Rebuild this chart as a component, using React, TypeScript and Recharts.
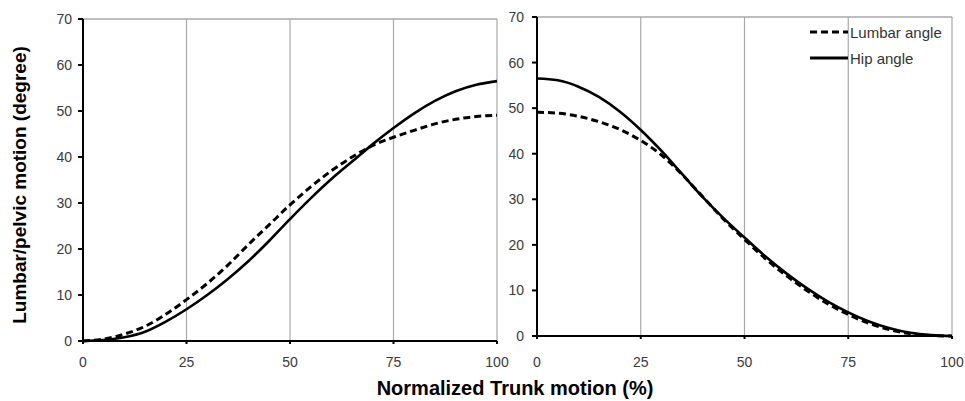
import { LineChart, Line, XAxis, YAxis, CartesianGrid, ReferenceLine, Legend } from 'recharts';

// percent of trunk motion (x) and joint angles in degrees
const pct = [0, 5, 10, 15, 20, 25, 30, 35, 40, 45, 50, 55, 60, 65, 70, 75, 80, 85, 90, 95, 100];

// flexion (left panel)
const lumbarFlex = [0, 0.4, 1.5, 3.2, 5.8, 9, 12.5, 16.5, 21, 25.3, 29.6, 33.5, 37, 40, 42.5, 44.3, 45.8, 47.2, 48.2, 48.8, 49.1];
const hipFlex = [0, 0.2, 0.8, 2, 4.2, 6.9, 10, 13.5, 17.4, 21.8, 26.5, 31, 35.2, 39, 42.8, 46.3, 49.5, 52.2, 54.3, 55.7, 56.5];

// extension (right panel)
const lumbarExt = [49.1, 48.9, 48.2, 47, 45.3, 42.9, 39.7, 35.4, 30.5, 25.6, 21.2, 17, 13.3, 10, 7.1, 4.7, 2.8, 1.4, 0.5, 0.1, 0];
const hipExt = [56.5, 56.1, 54.7, 52.4, 49.2, 45.2, 40.6, 35.5, 30.4, 25.8, 21.6, 17.5, 13.8, 10.5, 7.6, 5.2, 3.2, 1.7, 0.7, 0.2, 0];

const xTicks = [0, 25, 50, 75, 100];
const yTicks = [0, 10, 20, 30, 40, 50, 60, 70];

const flexData = pct.map((p, i) => ({ pct: p, lumbar: lumbarFlex[i], hip: hipFlex[i] }));
const extData = pct.map((p, i) => ({ pct: p, lumbar: lumbarExt[i], hip: hipExt[i] }));

const FONT = '"Liberation Sans", Arial, sans-serif';
const NARROW = '"Liberation Sans Narrow", "Arial Narrow", "Liberation Sans", Arial, sans-serif';
const tickStyle = { fontSize: 14, fill: '#3a3a3a', fontFamily: NARROW };
const gridColor = '#a8a8a8';

function LegendBox() {
  const row = { display: 'flex', alignItems: 'center', height: 26 } as const;
  return (
    <div style={{ fontFamily: FONT, fontSize: 15, color: '#333' }}>
      <div style={row}>
        <svg width={40} height={6}>
          <line x1={0} y1={3} x2={38} y2={3} stroke="#000" strokeWidth={3} strokeDasharray="7 4" />
        </svg>
        <span>Lumbar angle</span>
      </div>
      <div style={row}>
        <svg width={40} height={6}>
          <line x1={0} y1={3} x2={38} y2={3} stroke="#000" strokeWidth={3} />
        </svg>
        <span>Hip angle</span>
      </div>
    </div>
  );
}

function Panel({
  data,
  width,
  margin,
  yWidth,
  yTickMargin,
  xTickMargin,
  yLabel,
  legend,
}: {
  data: { pct: number; lumbar: number; hip: number }[];
  width: number;
  margin: { top: number; right: number; bottom: number; left: number };
  yWidth: number;
  yTickMargin: number;
  xTickMargin: number;
  yLabel?: boolean;
  legend?: boolean;
}) {
  return (
    <LineChart width={width} height={401} data={data} margin={margin}>
      <CartesianGrid horizontal={false} stroke={gridColor} strokeWidth={1.2} />
      <ReferenceLine y={70} stroke={gridColor} strokeWidth={1.5} />
      <XAxis
        dataKey="pct"
        type="number"
        domain={[0, 100]}
        ticks={xTicks}
        height={30}
        tick={tickStyle}
        tickSize={3}
        tickMargin={xTickMargin}
        stroke="#000"
        strokeWidth={2}
      />
      <YAxis
        domain={[0, 70]}
        ticks={yTicks}
        width={yWidth}
        tick={tickStyle}
        tickSize={5}
        tickMargin={yTickMargin}
        stroke="#000"
        strokeWidth={2}
        label={
          yLabel
            ? {
                content: () => (
                  <text
                    x={26}
                    y={185}
                    transform="rotate(-90 26 185)"
                    textAnchor="middle"
                    fontFamily={FONT}
                    fontWeight="bold"
                    fontSize={19}
                    fill="#000"
                  >
                    Lumbar/pelvic motion (degree)
                  </text>
                ),
              }
            : undefined
        }
      />
      {legend && (
        <Legend
          layout="horizontal"
          align="center"
          verticalAlign="middle"
          wrapperStyle={{ left: 310, top: 19, width: 150 }}
          content={() => <LegendBox />}
        />
      )}
      <Line
        type="monotone"
        dataKey="lumbar"
        name="Lumbar angle"
        stroke="#000"
        strokeWidth={3}
        strokeDasharray="7 4"
        dot={false}
        isAnimationActive={false}
      />
      <Line
        type="monotone"
        dataKey="hip"
        name="Hip angle"
        stroke="#000"
        strokeWidth={2.6}
        dot={false}
        isAnimationActive={false}
      />
    </LineChart>
  );
}

export default function App() {
  return (
    <div style={{ position: 'absolute', left: 0, top: 0, width: 965, height: 401, background: '#fff' }}>
      <div style={{ position: 'absolute', left: 0, top: 0 }}>
        <Panel
          data={flexData}
          width={510}
          margin={{ top: 19, right: 13, bottom: 30, left: 53 }}
          yWidth={30}
          yTickMargin={6}
          xTickMargin={13}
          yLabel
        />
      </div>
      <div style={{ position: 'absolute', left: 500, top: 0 }}>
        <Panel
          data={extData}
          width={465}
          margin={{ top: 17, right: 13, bottom: 35, left: 15 }}
          yWidth={22}
          yTickMargin={8}
          xTickMargin={18}
          legend
        />
      </div>
      <div
        style={{
          position: 'absolute',
          left: 0,
          width: 1030,
          top: 377,
          textAlign: 'center',
          fontFamily: FONT,
          fontWeight: 'bold',
          fontSize: 20,
          color: '#000',
        }}
      >
        Normalized Trunk motion (%)
      </div>
    </div>
  );
}
